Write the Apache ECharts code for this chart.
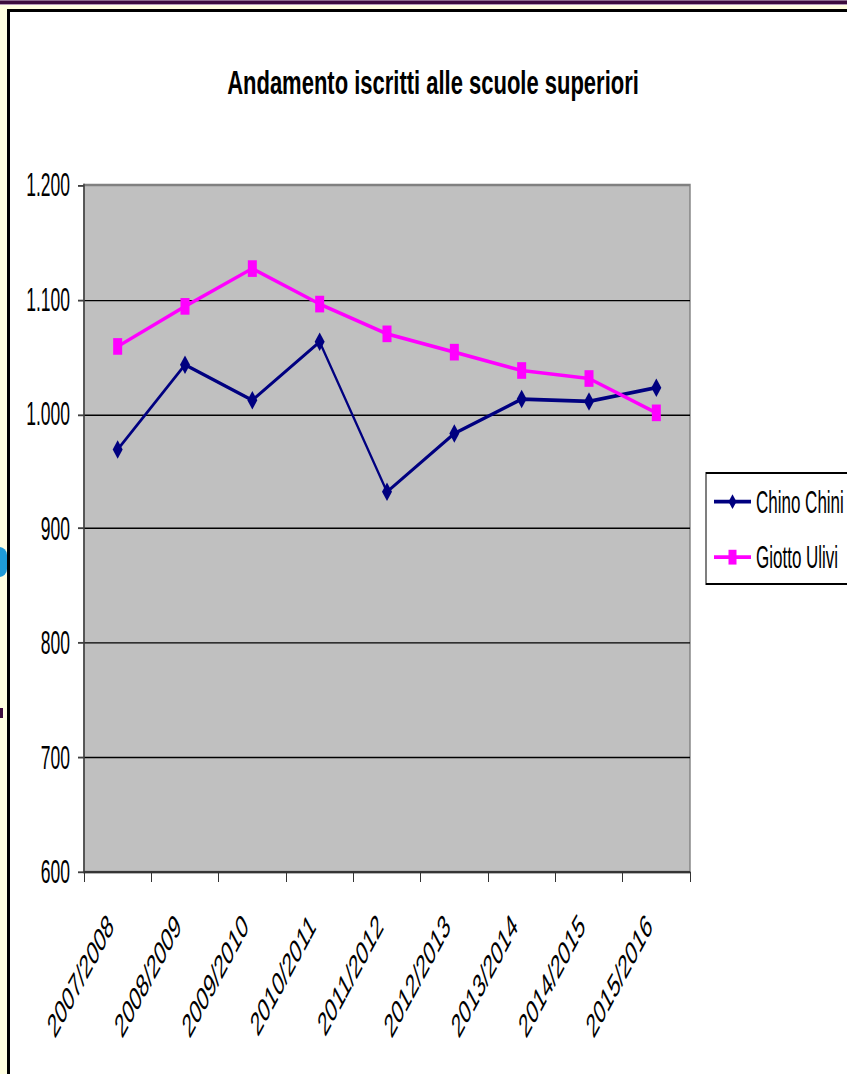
<!DOCTYPE html>
<html>

<head>
    <meta charset="utf-8">
    <title>index</title>
    <script src="https://cdn.jsdelivr.net/npm/echarts/dist/echarts.min.js"></script>
    <style>
        body { margin: 0; width: 847px; height: 1074px; overflow: hidden; background: #ffffe0; position: relative; }
        .band1 { position: absolute; left: 0; top: 0; width: 847px; height: 1px; background: #8c6a8c; }
        .band2 { position: absolute; left: 0; top: 1px; width: 847px; height: 3px; background: #3c0c3c; }
        .band3 { position: absolute; left: 0; top: 4px; width: 847px; height: 1px; background: #b59ab5; }
        .frame { position: absolute; left: 7px; top: 9px; width: 860px; height: 1080px; background: #fff;
                 border-left: 3px solid #000; border-top: 3px solid #000; }
        .blob { position: absolute; left: -6px; top: 547px; width: 13px; height: 30px; background: #1e9ad6; border-radius: 0 8px 8px 0; }
        .mark { position: absolute; left: 0; top: 708px; width: 3px; height: 10px; background: #3c0c3c; }
        /* the picture is stretched vertically, so the chart is drawn flat and scaled */
        #chart { position: absolute; left: 0; top: 0; width: 847px; height: 580.54px;
                 transform: scaleY(1.85); transform-origin: 0 0; }
    </style>
</head>

<body>
    <div class="band1"></div>
    <div class="band2"></div>
    <div class="band3"></div>
    <div class="blob"></div>
    <div class="mark"></div>
    <div class="frame"></div>
    <div id="chart"></div>
</body>
<script>
    var S = 1.85;
    var years = ['2007/2008', '2008/2009', '2009/2010', '2010/2011', '2011/2012',
        '2012/2013', '2013/2014', '2014/2015', '2015/2016'];
    var chinoChini = [969, 1043, 1012, 1063, 932, 983, 1013, 1011, 1023];
    var giottoUlivi = [1059, 1094, 1127, 1096, 1070, 1054, 1038, 1031, 1001];
    var seriesNames = ['Chino Chini', 'Giotto Ulivi'];
    var titleText = 'Andamento iscritti alle scuole superiori';

    var font = '"Liberation Sans", Arial, sans-serif';

    function fmt(v) {
        return String(v).replace(/\B(?=(\d{3})+(?!\d))/g, '.');
    }

    var chart = echarts.init(document.getElementById('chart'), null, { renderer: 'svg' });
    var option = {
        animation: false,
        graphic: {
            elements: [{
                type: 'text',
                x: 433,
                y: 83 / S,
                scaleY: 0.8,
                style: {
                    text: titleText,
                    font: 'bold 22px ' + font,
                    fill: '#000',
                    align: 'center',
                    verticalAlign: 'middle',
                    textAlign: 'center',
                    textVerticalAlign: 'middle'
                }
            }]
        },
        legend: {
            orient: 'vertical',
            left: 706,
            top: 473 / S,
            padding: [7, 12, 6, 7],
            itemGap: 13,
            itemWidth: 37,
            itemHeight: 10,
            borderColor: '#000',
            borderWidth: 1,
            backgroundColor: '#fff',
            textStyle: { color: '#000', fontSize: 17, fontFamily: font },
            data: seriesNames
        },
        grid: {
            left: 84,
            width: 606,
            top: 185 / S,
            height: (872 - 185) / S,
            show: true,
            backgroundColor: '#c0c0c0',
            borderColor: '#808080',
            borderWidth: 1.4
        },
        xAxis: {
            type: 'category',
            data: years,
            boundaryGap: true,
            axisLine: { lineStyle: { color: '#333', width: 1.1 } },
            axisTick: { show: true, length: 5.4, lineStyle: { color: '#333', width: 1 } },
            axisLabel: {
                rotate: 45,
                margin: 19,
                padding: [0, 10, 0, 0],
                color: '#000',
                fontSize: 18,
                fontFamily: font,
                interval: 0
            }
        },
        yAxis: {
            type: 'value',
            min: 600,
            max: 1200,
            interval: 100,
            axisLine: { show: true, lineStyle: { color: '#404040', width: 1.5 } },
            axisTick: { show: true, length: 6, lineStyle: { color: '#404040', width: 1 } },
            axisLabel: {
                margin: 14,
                color: '#000',
                fontSize: 17.5,
                fontFamily: font,
                formatter: fmt
            },
            splitLine: { show: true, showMaxLine: false, lineStyle: { color: '#000', width: 0.8 } }
        },
        series: [
            {
                name: seriesNames[0],
                type: 'line',
                data: chinoChini,
                symbol: 'diamond',
                symbolSize: 10,
                itemStyle: { color: '#000080' },
                lineStyle: { color: '#000080', width: 2 }
            },
            {
                name: seriesNames[1],
                type: 'line',
                data: giottoUlivi,
                symbol: 'rect',
                symbolSize: 9,
                itemStyle: { color: '#ff00ff' },
                lineStyle: { color: '#ff00ff', width: 2 }
            }
        ]
    };
    chart.setOption(option);
</script>

</html>
